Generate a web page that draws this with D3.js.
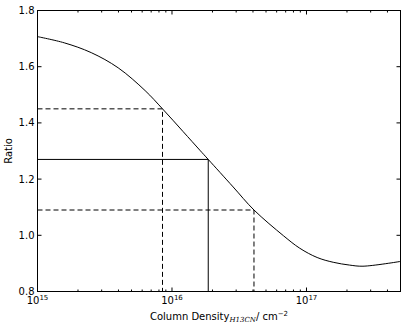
<!DOCTYPE html>
<html>
<head>
<meta charset="utf-8"/>
<script src="https://cdn.jsdelivr.net/npm/d3@7"></script>
<style>
  body { margin: 0; background: #fff; }
  text { font-family: "DejaVu Sans", sans-serif; fill: #000; }
</style>
</head>
<body>
<script>
  // curve
  var density = [1e15, 1.58e15, 2.51e15, 3.98e15, 6.31e15, 8.5e15, 1.21e16, 1.61e16, 1.86e16,
                 2.85e16, 4.07e16, 6.76e16, 8.91e16, 1.2e17, 1.58e17, 2.09e17, 2.63e17, 5e17];
  var ratio   = [1.707, 1.685, 1.650, 1.596, 1.515, 1.45, 1.369, 1.303, 1.27,
                 1.172, 1.09, 0.998, 0.954, 0.921, 0.904, 0.894, 0.890, 0.907];
  // guide lines: density, ratio, dashed or not
  var guideDensity = [8.5e15, 1.86e16, 4.07e16];
  var guideRatio = [1.45, 1.27, 1.09];
  var guideDashed = [true, false, true];
  var yTicks = [0.8, 1.0, 1.2, 1.4, 1.6, 1.8];
  var xMajor = [1e15, 1e16, 1e17];
  var xExp = ["15", "16", "17"];

  var w = 407, h = 329;
  var m = {left: 37.5, right: 6.5, top: 10.5, bottom: 37.5};

  var svg = d3.select("body").append("svg")
    .attr("width", w).attr("height", h);

  var x = d3.scaleLog().domain([1e15, 5e17]).range([m.left, w - m.right]);
  var y = d3.scaleLinear().domain([0.8, 1.8]).range([h - m.bottom, m.top]);

  var pts = density.map(function(d, i) { return [d, ratio[i]]; });

  // guide lines
  guideDensity.forEach(function(d, i) {
    var g = svg.append("path")
      .attr("d", "M" + x(1e15) + "," + y(guideRatio[i]) + "H" + x(d) + "V" + y(0.8))
      .attr("fill", "none")
      .attr("stroke", "#000")
      .attr("stroke-width", 1);
    if (guideDashed[i]) g.attr("stroke-dasharray", "5,3");
  });

  svg.append("path")
    .datum(pts)
    .attr("fill", "none")
    .attr("stroke", "#000")
    .attr("stroke-width", 1)
    .attr("d", d3.line()
      .x(function(d) { return x(d[0]); })
      .y(function(d) { return y(d[1]); })
      .curve(d3.curveCatmullRom.alpha(0.5)));

  // frame
  svg.append("rect")
    .attr("x", m.left).attr("y", m.top)
    .attr("width", w - m.right - m.left).attr("height", h - m.bottom - m.top)
    .attr("fill", "none").attr("stroke", "#000").attr("stroke-width", 1);

  // ticks, inside, on all sides
  var minor = [];
  for (var e = 15; e <= 17; e++) {
    for (var k = 2; k <= 9; k++) {
      var v = k * Math.pow(10, e);
      if (v <= 5e17) minor.push(v);
    }
  }
  var tk = svg.append("g").attr("stroke", "#000").attr("stroke-width", 1);
  xMajor.forEach(function(v) {
    tk.append("line").attr("x1", x(v)).attr("x2", x(v)).attr("y1", y(0.8)).attr("y2", y(0.8) - 4);
    tk.append("line").attr("x1", x(v)).attr("x2", x(v)).attr("y1", y(1.8)).attr("y2", y(1.8) + 4);
  });
  minor.forEach(function(v) {
    tk.append("line").attr("x1", x(v)).attr("x2", x(v)).attr("y1", y(0.8)).attr("y2", y(0.8) - 2);
    tk.append("line").attr("x1", x(v)).attr("x2", x(v)).attr("y1", y(1.8)).attr("y2", y(1.8) + 2);
  });
  yTicks.forEach(function(v) {
    tk.append("line").attr("x1", m.left).attr("x2", m.left + 4).attr("y1", y(v)).attr("y2", y(v));
    tk.append("line").attr("x1", w - m.right).attr("x2", w - m.right - 4).attr("y1", y(v)).attr("y2", y(v));
  });

  // y tick labels
  svg.append("g").selectAll("text").data(yTicks).enter().append("text")
    .attr("x", m.left - 3)
    .attr("y", function(d) { return y(d) + 3.5; })
    .attr("text-anchor", "end")
    .attr("font-size", 10)
    .text(function(d) { return d.toFixed(1); });

  // x tick labels
  xMajor.forEach(function(v, i) {
    var t = svg.append("text")
      .attr("x", x(v))
      .attr("y", h - m.bottom + 12)
      .attr("text-anchor", "middle")
      .attr("font-size", 10);
    t.append("tspan").text("10");
    t.append("tspan").attr("dy", -4).attr("font-size", 7).text(xExp[i]);
  });

  // axis labels
  svg.append("text")
    .attr("transform", "translate(12," + ((m.top + h - m.bottom) / 2) + ") rotate(-90)")
    .attr("text-anchor", "middle")
    .attr("font-size", 10)
    .text("Ratio");

  var xl = svg.append("text")
    .attr("x", (m.left + w - m.right) / 2)
    .attr("y", h - 9)
    .attr("text-anchor", "middle")
    .attr("font-size", 10);
  xl.append("tspan").text("Column Density");
  xl.append("tspan").attr("dy", 2).attr("font-size", 7).attr("font-style", "italic")
    .style("font-family", "'DejaVu Serif', serif").text("H13CN");
  xl.append("tspan").attr("dy", -2).text("/ cm");
  xl.append("tspan").attr("dy", -4).attr("font-size", 7).text("\u22122");
</script>
</body>
</html>
